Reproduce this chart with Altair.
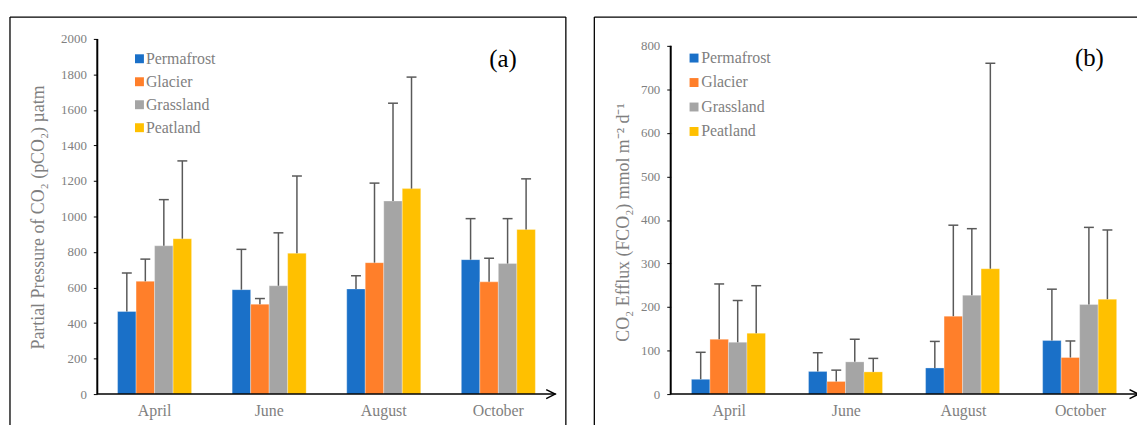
import altair as alt
import pandas as pd

FONT = "Liberation Serif"

months = ["April", "June", "August", "October"]
types = ["Permafrost", "Glacier", "Grassland", "Peatland"]
colors = ["#1A70C8", "#FF7F2A", "#A5A5A5", "#FFC000"]

# Panel (a): pCO2 (uatm), mean and SD per month
pco2_mean_perm = [465, 588, 592, 757]
pco2_mean_glac = [635, 506, 740, 632]
pco2_mean_gras = [835, 610, 1087, 735]
pco2_mean_peat = [875, 793, 1157, 927]
pco2_sd_perm = [217, 227, 75, 231]
pco2_sd_glac = [125, 32, 448, 133]
pco2_sd_gras = [260, 298, 551, 253]
pco2_sd_peat = [438, 435, 628, 285]

# Panel (b): FCO2 (mmol m-2 d-1), mean and SD per month
fco2_mean_perm = [34, 52, 60, 123]
fco2_mean_glac = [126, 29, 179, 84]
fco2_mean_gras = [119, 74, 227, 206]
fco2_mean_peat = [140, 51, 288, 218]
fco2_sd_perm = [62, 43, 61, 118]
fco2_sd_glac = [127, 26, 209, 38]
fco2_sd_gras = [96, 52, 153, 177]
fco2_sd_peat = [109, 31, 472, 159]


def make_df(means, sds):
    rows = []
    for t, m_list, s_list in zip(types, means, sds):
        for mo, m, s in zip(months, m_list, s_list):
            rows.append({"month": mo, "type": t, "mean": m, "top": m + s})
    return pd.DataFrame(rows)


df_a = make_df([pco2_mean_perm, pco2_mean_glac, pco2_mean_gras, pco2_mean_peat],
               [pco2_sd_perm, pco2_sd_glac, pco2_sd_gras, pco2_sd_peat])
df_b = make_df([fco2_mean_perm, fco2_mean_glac, fco2_mean_gras, fco2_mean_peat],
               [fco2_sd_perm, fco2_sd_glac, fco2_sd_gras, fco2_sd_peat])
leg_df = pd.DataFrame({"type": types})
one = pd.DataFrame({"k": [0]})

H = 358
GRAY = "#808080"
FRAME_BOTTOM = 396


def panel(df, axis_max, dom_max, step, title, label, W, fl, fr, tx, ty,
          lsq, ltx, ly0, ly1, lx, lyy):
    ys = alt.Scale(domain=[0, dom_max], nice=False, zero=True)
    xenc = alt.X("month:N", sort=months,
                 scale=alt.Scale(paddingInner=0.354, paddingOuter=0.177),
                 axis=alt.Axis(title=None, labelFont=FONT, labelFontSize=16,
                               labelColor=GRAY, ticks=False, domain=False,
                               labelPadding=9, labelAngle=0))
    xoff = alt.XOffset("type:N", sort=types,
                       scale=alt.Scale(paddingInner=0, paddingOuter=0))
    color = alt.Color("type:N", sort=types,
                      scale=alt.Scale(domain=types, range=colors), legend=None)

    layers = []
    base1 = alt.Chart(one)
    # outer frame
    layers.append(base1.mark_rule(color="black", strokeWidth=1.3).encode(
        x=alt.value(fl), y=alt.value(-22), y2=alt.value(FRAME_BOTTOM)))
    layers.append(base1.mark_rule(color="black", strokeWidth=1.3).encode(
        x=alt.value(fl), x2=alt.value(fr), y=alt.value(-22)))
    if label == "(a)":
        layers.append(base1.mark_rule(color="black", strokeWidth=1.3).encode(
            x=alt.value(fr), y=alt.value(-22), y2=alt.value(FRAME_BOTTOM)))

    bars = alt.Chart(df).mark_bar(stroke="white", strokeWidth=0.6, strokeOpacity=0.5).encode(
        x=xenc, xOffset=xoff,
        y=alt.Y("mean:Q", scale=ys,
                axis=alt.Axis(values=list(range(0, axis_max + 1, step)), title=None,
                              format="d",
                              labelFont=FONT, labelFontSize=13, labelColor=GRAY,
                              tickColor="black", tickSize=4, labelPadding=7,
                              domain=False, grid=False)),
        color=color)
    err = alt.Chart(df).mark_rule(color="#595959", strokeWidth=1.5).encode(
        x=xenc, xOffset=xoff,
        y=alt.Y("mean:Q", scale=ys, axis=None), y2="top:Q")
    caps = alt.Chart(df).mark_tick(color="#595959", thickness=1.5, size=10, opacity=1).encode(
        x=xenc, xOffset=xoff,
        y=alt.Y("top:Q", scale=ys, axis=None))
    yline = base1.mark_rule(color="black", strokeWidth=2).encode(
        x=alt.value(0),
        y=alt.Y(datum=0, type="quantitative", scale=ys, axis=None),
        y2=alt.Y2(datum=axis_max))
    xline = base1.mark_rule(color="black", strokeWidth=1.5).encode(
        x=alt.value(0), x2=alt.value(W), y=alt.value(H))
    arrow = base1.mark_point(shape="M -2 -1 L 0 0 L -2 1", filled=False, size=81,
                             color="black", strokeWidth=1.5, opacity=1).encode(
        x=alt.value(W - 0.5), y=alt.value(H))
    legy = alt.Y("type:N", sort=types, scale=alt.Scale(range=[ly0, ly1], padding=0), axis=None)
    leg_sq = alt.Chart(leg_df).mark_square(size=81, opacity=1).encode(
        x=alt.value(lsq), y=legy, color=color)
    leg_tx = alt.Chart(leg_df).mark_text(align="left", baseline="middle", font=FONT,
                                         fontSize=16, color="#7f7f7f").encode(
        x=alt.value(ltx), y=legy, text="type:N")
    ttl = base1.mark_text(angle=270, font=FONT, fontSize=18, color="#7f7f7f",
                          align="center", baseline="middle").encode(
        x=alt.value(tx), y=alt.value(ty), text=alt.value(title))
    lab = base1.mark_text(font=FONT, fontSize=25, color="black",
                          align="center", baseline="middle").encode(
        x=alt.value(lx), y=alt.value(lyy), text=alt.value(label))

    layers += [bars, err, caps, yline, xline, arrow, leg_sq, leg_tx, ttl, lab]
    return alt.layer(*layers).resolve_scale(y="independent").properties(width=W, height=H)


pa = panel(df_a, 2000, 2000, 200, "Partial Pressure of CO\u2082  (pCO\u2082) \u00b5atm", "(a)",
           462, -88, 472.3, -59, 180, 42.5, 49, 20, 89.5, 409, 20)
pb = panel(df_b, 800, 800 * 358 / 351, 100, "CO\u2082 Efflux (FCO\u2082) mmol m\u207b\u00b2 d\u207b\u00b9", "(b)",
           472, -77, 481, -47, 185, 23.5, 30.7, 19.3, 93.3, 422, 19)

chart = alt.hconcat(pa, pb, spacing=116, bounds="flush").configure_view(
    strokeWidth=0).properties(padding={"left": 1, "top": 6.5, "right": -12, "bottom": -10})

chart.save("out.html", embed_options={"renderer": "svg", "actions": False})
